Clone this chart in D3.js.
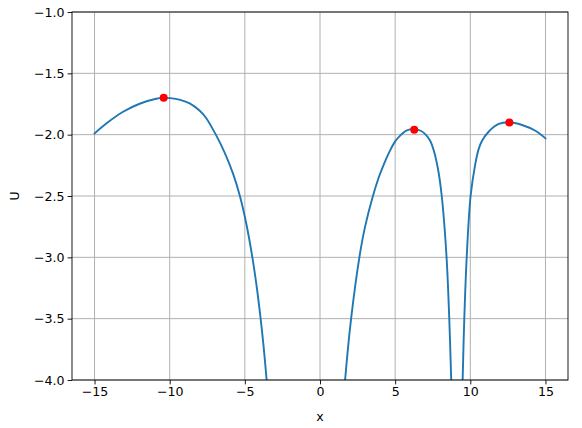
<!DOCTYPE html>
<html>
<head>
<meta charset="utf-8">
<script src="https://cdn.jsdelivr.net/npm/d3@7"></script>
<style>
  body { margin: 0; background: #fff; }
  text { font-family: "DejaVu Sans", sans-serif; }
</style>
</head>
<body>
<svg id="chart" width="582" height="428"></svg>
<script>
// values, one array per branch of the curve
var leftBranch = [
  [-15.0, -1.99], [-14.2, -1.907], [-13.1, -1.813], [-12.0, -1.748], [-10.9, -1.707],
  [-10.4, -1.700], [-9.96, -1.702], [-9.3, -1.716], [-8.67, -1.745], [-8.0, -1.805],
  [-7.6, -1.86], [-6.93, -2.0], [-6.33, -2.15], [-5.78, -2.32], [-5.33, -2.50],
  [-4.9, -2.728], [-4.5, -3.0], [-4.2, -3.25], [-3.95, -3.5], [-3.75, -3.73],
  [-3.55, -4.0], [-3.45, -4.14]
];
var middleBranch = [
  [1.6, -4.12], [1.67, -4.0], [2.07, -3.5], [2.62, -3.0], [3.0, -2.75], [3.52, -2.5],
  [3.89, -2.355], [4.22, -2.25], [4.6, -2.145], [5.0, -2.055], [5.4, -2.0],
  [5.78, -1.965], [6.27, -1.955], [6.7, -1.968], [7.0, -1.995], [7.33, -2.05],
  [7.56, -2.125], [7.85, -2.28], [8.1, -2.5], [8.42, -3.0], [8.6, -3.5], [8.73, -4.0],
  [8.76, -4.15]
];
var rightBranch = [
  [9.46, -4.15], [9.49, -4.0], [9.6, -3.5], [9.76, -3.0], [10.02, -2.5], [10.33, -2.24],
  [10.55, -2.12], [10.78, -2.05], [11.22, -1.976], [11.89, -1.913], [12.6, -1.899],
  [13.44, -1.921], [14.33, -1.968], [15.0, -2.03]
];
var peakX = [-10.4, 6.27, 12.6];
var peakU = [-1.70, -1.96, -1.90];
var xTicks = [-15, -10, -5, 0, 5, 10, 15];
var yTicks = [-4.0, -3.5, -3.0, -2.5, -2.0, -1.5, -1.0];

var svg = d3.select("#chart");
var padL = 72, padR = 568, padT = 12, padB = 380;

var x = d3.scaleLinear().domain([-16.5, 16.5]).range([padL, padR]);
var y = d3.scaleLinear().domain([-4, -1]).range([padB, padT]);

// grid
svg.append("g").selectAll("line").data(xTicks).enter().append("line")
  .attr("x1", function (d) { return x(d); }).attr("x2", function (d) { return x(d); })
  .attr("y1", padT).attr("y2", padB)
  .attr("stroke", "#b0b0b0").attr("stroke-width", 1);
svg.append("g").selectAll("line").data(yTicks).enter().append("line")
  .attr("x1", padL).attr("x2", padR)
  .attr("y1", function (d) { return y(d); }).attr("y2", function (d) { return y(d); })
  .attr("stroke", "#b0b0b0").attr("stroke-width", 1);

svg.append("clipPath").attr("id", "clip").append("rect")
  .attr("x", padL).attr("y", padT).attr("width", padR - padL).attr("height", padB - padT);

var line = d3.line()
  .x(function (d) { return x(d[0]); })
  .y(function (d) { return y(d[1]); })
  .curve(d3.curveCatmullRom.alpha(0.5));

var plot = svg.append("g").attr("clip-path", "url(#clip)");
[leftBranch, middleBranch, rightBranch].forEach(function (b) {
  plot.append("path").datum(b)
    .attr("d", line)
    .attr("fill", "none")
    .attr("stroke", "#1f77b4")
    .attr("stroke-width", 1.9)
    .attr("stroke-linecap", "square");
});

plot.selectAll("circle").data(peakX).enter().append("circle")
  .attr("cx", function (d) { return x(d); })
  .attr("cy", function (d, i) { return y(peakU[i]); })
  .attr("r", 4)
  .attr("fill", "red");

// axes
var fmtY = function (d) { return d3.format(".1f")(d).replace("-", "\u2212"); };
var fmtX = function (d) { return String(d).replace("-", "\u2212"); };

var xAxis = svg.append("g").attr("transform", "translate(0," + padB + ")")
  .call(d3.axisBottom(x).tickValues(xTicks).tickFormat(fmtX).tickSizeOuter(0).tickSize(4.4).tickPadding(3));
var yAxis = svg.append("g").attr("transform", "translate(" + padL + ",0)")
  .call(d3.axisLeft(y).tickValues(yTicks).tickFormat(fmtY).tickSizeOuter(0).tickSize(4.4).tickPadding(3));

[xAxis, yAxis].forEach(function (a) {
  a.select(".domain").remove();
  a.selectAll("text").attr("font-family", "DejaVu Sans").attr("font-size", 12.6).attr("fill", "#000");
  a.selectAll("line").attr("stroke", "#000").attr("stroke-width", 0.9);
});

// frame
svg.append("rect")
  .attr("x", padL).attr("y", padT).attr("width", padR - padL).attr("height", padB - padT)
  .attr("fill", "none").attr("stroke", "#000").attr("stroke-width", 0.9);

svg.append("text").attr("x", (padL + padR) / 2).attr("y", 421)
  .attr("text-anchor", "middle").attr("font-size", 12.6).text("x");
svg.append("text")
  .attr("transform", "translate(19," + (padT + padB) / 2 + ") rotate(-90)")
  .attr("text-anchor", "middle").attr("font-size", 12.6).text("U");
</script>
</body>
</html>
